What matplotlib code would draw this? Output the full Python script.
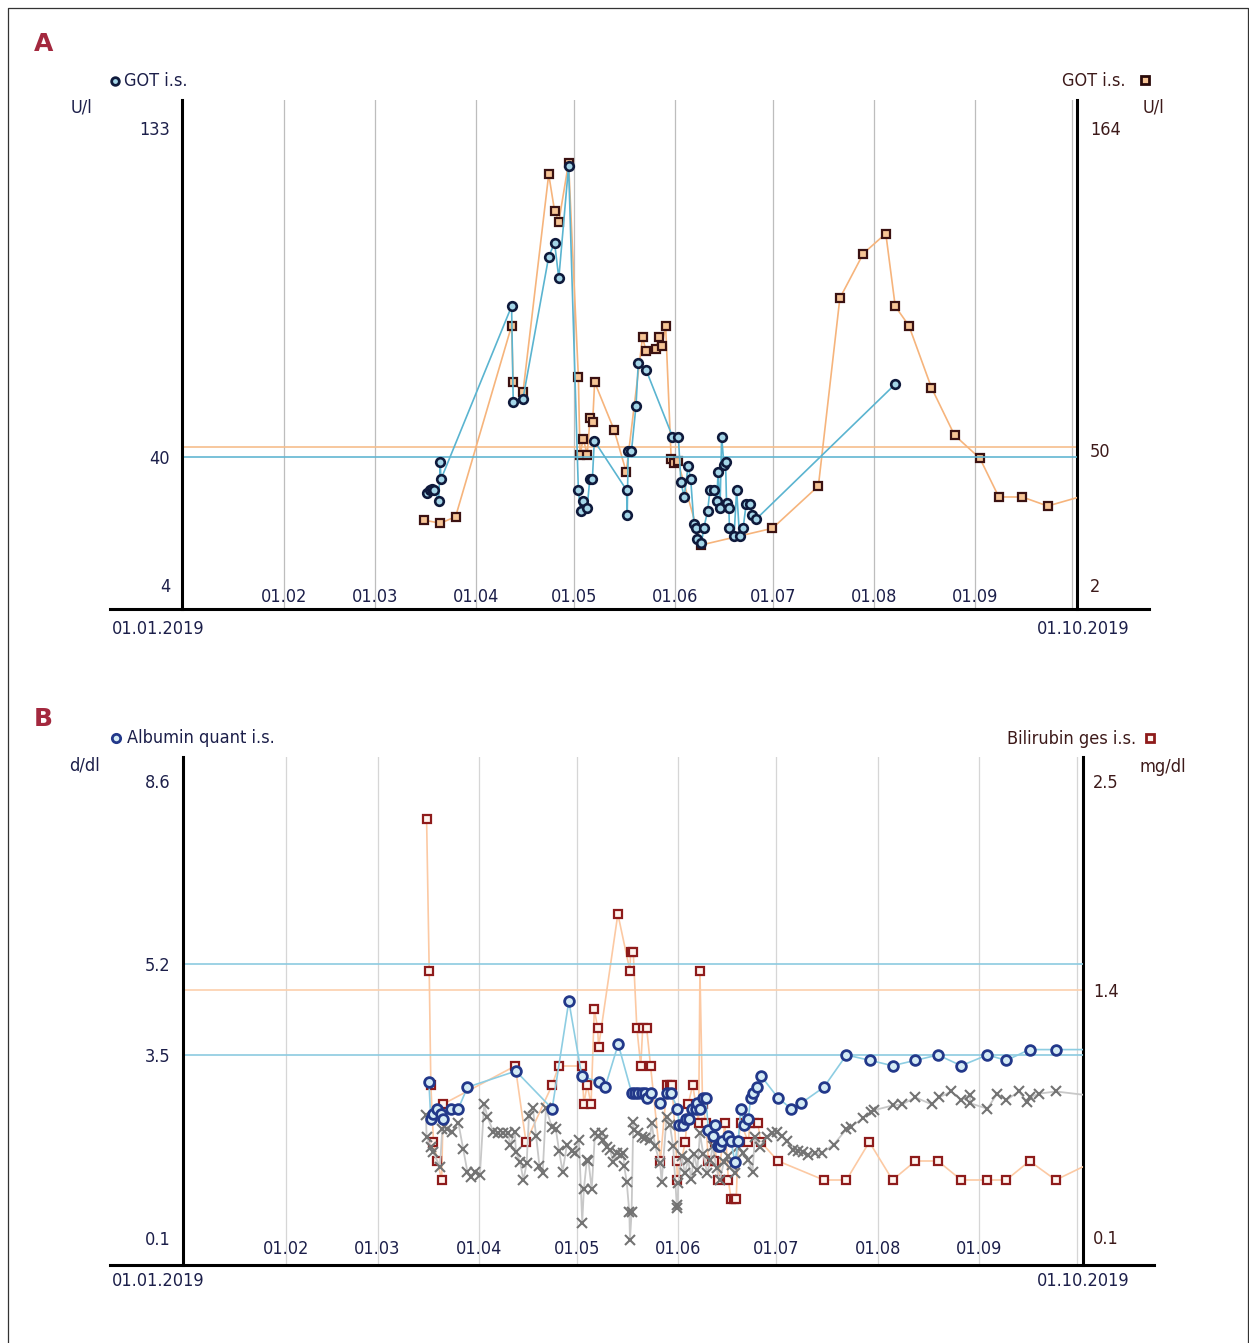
import numpy as np
import matplotlib
matplotlib.use("Agg")
import matplotlib.pyplot as plt
from matplotlib.lines import Line2D

W, H = 1249, 1343

# ---- panel A : GOT i.s. (days since 01.01.2019) ----
got_l_days = [74.8, 75.6, 76.3, 77.1, 78.4, 78.9, 79.1, 100.8, 101.3, 104.3,
              112.2, 114.0, 115.3, 118.3, 121.3, 122.0, 122.8, 124.0, 124.8, 125.6,
              126.2, 136.1, 136.3, 136.6, 137.6, 139.0, 139.7, 142.1, 150.2, 152.0,
              152.8, 153.8, 155.0, 155.8, 156.8, 157.4, 157.8, 159.1, 159.8, 161.0,
              161.7, 163.0, 163.8, 164.2, 164.8, 165.3, 166.0, 166.5, 166.8, 167.5,
              167.7, 169.1, 169.9, 170.8, 171.9, 172.8, 174.0, 174.7, 175.9, 218.6]
got_l_vals = [29.9, 30.8, 31.0, 30.8, 27.8, 38.7, 33.8, 82.7, 55.7, 56.6,
              96.7, 100.6, 90.6, 122.3, 30.8, 24.9, 27.8, 25.8, 33.8, 33.8,
              44.7, 30.8, 23.8, 41.7, 41.7, 54.6, 66.7, 64.7, 45.9, 45.9,
              33.0, 28.8, 37.7, 33.8, 21.1, 20.0, 17.0, 15.9, 20.0, 24.9,
              30.8, 30.8, 27.8, 35.8, 25.8, 45.9, 37.9, 38.8, 27.1, 25.8,
              20.0, 17.8, 30.8, 17.8, 20.0, 26.8, 26.8, 23.8, 22.6, 60.7]
got_r_days = [74.0, 78.9, 83.6, 100.8, 101.3, 104.3, 112.2, 114.0, 115.3, 118.3,
              121.3, 121.8, 122.8, 124.0, 124.9, 125.7, 126.3, 132.3, 136.0, 141.0,
              142.1, 145.0, 146.1, 147.0, 148.1, 149.8, 150.8, 151.8, 159.1, 180.9,
              195.0, 201.6, 208.8, 215.7, 218.6, 222.8, 229.7, 236.8, 244.6, 250.4,
              257.6, 265.4, 280.6]
got_r_vals = [25.0, 23.9, 26.2, 93.9, 73.9, 70.3, 147.6, 134.6, 130.8, 151.7,
              75.8, 48.2, 53.9, 48.2, 61.1, 59.9, 73.9, 56.9, 42.1, 89.8,
              84.9, 85.8, 89.8, 86.8, 93.9, 46.8, 45.1, 46.0, 16.2, 22.1,
              37.1, 103.7, 119.5, 126.6, 100.8, 93.9, 72.0, 55.1, 46.9, 33.2,
              33.2, 30.0, 35.0]
got_l_ticks = [4, 40, 133]
got_r_ticks = [2, 50, 164]
got_l_ref = 40
got_r_ref = 51

# ---- panel B : Albumin / Bilirubin ----
alb_days = [74.7, 75.3, 76.1, 77.3, 78.3, 79.1, 81.4, 83.7, 86.5, 101.3,
            112.4, 117.5, 121.5, 126.6, 128.6, 132.6, 136.7, 137.7, 138.7, 139.8,
            140.8, 141.3, 142.5, 145.4, 147.4, 148.7, 150.7, 151.3, 152.5, 153.3,
            154.3, 155.1, 156.4, 156.8, 157.6, 158.6, 159.4, 160.2, 161.5, 162.2,
            163.0, 163.7, 164.3, 166.3, 167.1, 168.3, 169.3, 170.1, 171.1, 172.4,
            173.1, 173.9, 174.9, 176.4, 181.5, 185.5, 188.5, 195.5, 202.4, 209.6,
            216.5, 223.5, 230.4, 237.5, 245.5, 251.3, 258.4, 266.4, 285.0]
alb_vals = [3.0, 2.3, 2.4, 2.5, 2.4, 2.3, 2.5, 2.5, 2.9, 3.2,
            2.5, 4.5, 3.1, 3.0, 2.9, 3.7, 2.8, 2.8, 2.8, 2.8,
            2.8, 2.7, 2.8, 2.6, 2.8, 2.8, 2.5, 2.2, 2.2, 2.3,
            2.3, 2.5, 2.5, 2.6, 2.5, 2.7, 2.7, 2.1, 2.0, 2.2,
            1.8, 1.8, 1.9, 2.0, 1.9, 1.5, 1.9, 2.5, 2.2, 2.3,
            2.7, 2.8, 2.9, 3.1, 2.7, 2.5, 2.6, 2.9, 3.5, 3.4,
            3.3, 3.4, 3.5, 3.3, 3.5, 3.4, 3.6, 3.6, 3.6]
bili_days = [74.0, 74.8, 75.3, 76.1, 77.3, 78.6, 79.1, 101.1, 104.4, 112.4,
             114.4, 121.5, 122.1, 123.1, 124.3, 125.3, 126.3, 126.6, 132.5, 136.2,
             136.4, 137.2, 138.3, 139.5, 140.1, 141.3, 142.5, 145.5, 147.5, 148.5,
             149.1, 150.5, 150.7, 153.1, 154.0, 155.4, 157.2, 157.6, 158.4, 159.4,
             160.2, 161.2, 162.0, 162.1, 163.2, 165.2, 166.3, 167.1, 167.9, 168.7,
             169.3, 170.1, 172.4, 172.9, 174.1, 175.3, 176.2, 181.5, 195.5, 202.4,
             209.4, 216.5, 223.5, 230.4, 237.5, 245.5, 251.3, 258.4, 266.4, 278.4]
bili_vals = [2.3, 1.5, 0.9, 0.6, 0.5, 0.4, 0.8, 1.0, 0.6, 0.9,
             1.0, 1.0, 0.8, 0.9, 0.8, 1.3, 1.2, 1.1, 1.8, 1.5,
             1.6, 1.6, 1.2, 1.0, 1.2, 1.2, 1.0, 0.5, 0.9, 0.9,
             0.9, 0.5, 0.4, 0.6, 0.8, 0.9, 0.7, 1.5, 0.8, 0.7,
             0.5, 0.5, 0.5, 0.6, 0.4, 0.7, 0.4, 0.3, 0.3, 0.3,
             0.6, 0.7, 0.6, 0.7, 0.7, 0.7, 0.6, 0.5, 0.4, 0.4,
             0.6, 0.4, 0.5, 0.5, 0.4, 0.4, 0.4, 0.5, 0.4, 0.5]
gray_days = [73.8, 74.0, 75.3, 75.9, 78.1, 78.8, 80.2, 81.7, 83.7, 85.2,
             86.5, 87.6, 88.8, 90.3, 91.6, 92.6, 94.4, 95.9, 97.5, 99.0,
             99.5, 101.0, 101.3, 102.6, 103.6, 104.6, 105.3, 106.5, 107.5, 108.5,
             109.5, 110.5, 112.3, 113.5, 114.5, 115.6, 116.9, 118.4, 119.4, 120.6,
             121.6, 122.1, 123.0, 123.5, 124.5, 125.5, 126.5, 127.6, 128.0, 129.1,
             130.1, 131.1, 132.1, 133.4, 134.2, 134.4, 135.2, 136.0, 136.2, 136.7,
             137.2, 137.4, 138.7, 139.8, 140.8, 142.3, 142.8, 143.9, 145.4, 145.9,
             147.4, 148.4, 149.4, 150.5, 150.7, 151.0, 152.0, 153.0, 154.0, 154.9,
             155.9, 156.8, 157.6, 158.6, 159.8, 160.8, 161.5, 162.7, 163.7, 164.9,
             166.3, 167.3, 168.3, 169.3, 170.9, 172.4, 173.7, 174.4, 175.9, 178.0,
             179.5, 181.1, 182.6, 184.1, 186.1, 187.7, 189.2, 190.7, 192.8, 194.8,
             198.5, 202.4, 203.7, 207.4, 209.8, 210.7, 216.6, 219.4, 223.5, 228.5,
             230.7, 234.5, 237.5, 240.2, 240.3, 245.5, 248.5, 251.3, 255.2, 257.6,
             258.5, 261.3, 266.5, 283.0]
gray_vals = [2.38, 1.98, 1.79, 1.70, 1.42, 2.13, 2.13, 2.07, 2.24, 1.75,
             1.32, 1.23, 1.32, 1.27, 2.58, 2.35, 2.07, 2.04, 2.04, 2.04,
             1.82, 2.07, 1.70, 1.51, 1.17, 1.48, 2.36, 2.51, 1.99, 1.44,
             1.30, 2.51, 2.16, 2.13, 1.72, 1.33, 1.82, 1.72, 1.67, 1.92,
             0.38, 1.0, 1.54, 1.53, 1.0, 2.04, 2.0, 2.04, 1.92, 1.79,
             1.73, 1.51, 1.67, 1.64, 1.67, 1.44, 1.14, 0.57, 0.06, 0.57,
             2.26, 2.1, 2.04, 1.98, 1.95, 1.92, 2.24, 1.8, 1.48, 1.14,
             2.35, 2.2, 1.8, 0.71, 0.65, 1.12, 1.61, 1.3, 1.55, 1.2,
             1.65, 1.35, 2.04, 1.66, 1.30, 1.54, 1.8, 1.39, 1.17, 1.5,
             1.61, 1.45, 1.30, 1.79, 1.67, 1.54, 1.33, 1.98, 1.79, 1.98,
             2.04, 2.07, 1.99, 1.89, 1.73, 1.72, 1.70, 1.64, 1.67, 1.67,
             1.83, 2.12, 2.16, 2.32, 2.44, 2.47, 2.56, 2.58, 2.71, 2.58,
             2.71, 2.82, 2.66, 2.76, 2.6, 2.5, 2.78, 2.66, 2.82, 2.62,
             2.71, 2.78, 2.82, 2.70]
alb_ticks = [0.1, 3.5, 5.2, 8.6]
bili_ticks = [0.1, 1.4, 2.5]
alb_refs = [3.5, 5.2]
bili_ref = 1.4

start = np.datetime64('2019-01-01')
months = np.arange('2019-02', '2019-11', dtype='datetime64[M]').astype('datetime64[D]')
month_days = (months - start).astype(int)
month_labels = [str(m)[8:10] + '.' + str(m)[5:7] for m in months]
month_labels[-1] = ''

plt.rcParams['font.family'] = ['DejaVu Sans']
plt.rcParams['font.stretch'] = 'condensed'
FS = 13
NAVY = '#1c1f4a'
BROWN = '#3d1a1a'
MAROON = '#a3283e'

fig = plt.figure(figsize=(W / 100, H / 100), dpi=100)


def fx(x):
    return x / W


def fy(y):
    return 1 - y / H


def make_panel(left, top, right, bottom, xlim, yl, yr):
    # right-hand axes at the bottom, left-hand axes drawn on top of it
    ax2 = fig.add_axes([fx(left), fy(bottom), (right - left) / W, (bottom - top) / H])
    ax = fig.add_axes(ax2.get_position(), sharex=ax2)
    ax2.yaxis.tick_right()
    ax.set_zorder(ax2.get_zorder() + 1)
    ax.patch.set_visible(False)
    ax2.set_xlim(*xlim)
    ax.set_ylim(*yl)
    ax2.set_ylim(*yr)
    for s in ['top', 'bottom', 'right']:
        ax.spines[s].set_visible(False)
    for s in ['top', 'bottom', 'left']:
        ax2.spines[s].set_visible(False)
    ax.spines['left'].set_linewidth(2.2)
    ax2.spines['right'].set_linewidth(2.2)
    ax.spines['left'].set_color('black')
    ax2.spines['right'].set_color('black')
    ax.set_xticks([])
    ax2.set_xticks([])
    return ax, ax2


# ================= Panel A =================
axA, axA2 = make_panel(182, 100, 1077.3, 609.4, (-0.4, 274.5),
                       (4 - 24.4 / 3.543, 133 + 28 / 3.543),
                       (2 - 24.4 / 2.821, 164 + 28 / 2.821))
for d in month_days:
    axA2.axvline(d, color='#bdbdbd', lw=0.9, zorder=0)
axA2.axhline(got_r_ref, color='#f6bd8c', lw=1.2, zorder=1)
axA.axhline(got_l_ref, color='#62b6d2', lw=1.2, zorder=1)
axA2.plot(got_r_days, got_r_vals, color='#f6b47c', lw=1.2, marker='s', ms=6,
          mfc='#f6c596', mec='#3b1212', mew=1.6, zorder=3)
axA.plot(got_l_days, got_l_vals, color='#5ab4d0', lw=1.2, marker='o', ms=6.2,
         mfc='#a5d6e8', mec='#0f1a3c', mew=1.9, zorder=4)
axA.set_yticks(got_l_ticks, [str(t) for t in got_l_ticks])
axA2.set_yticks(got_r_ticks, [str(t) for t in got_r_ticks])
axA.tick_params(axis='y', length=0, pad=8.5, labelsize=FS, labelcolor=NAVY)
axA2.tick_params(axis='y', length=0, pad=9, labelsize=FS, labelcolor=BROWN)
for d, lab in zip(month_days, month_labels):
    axA.text(d, 0.024, lab, transform=axA.get_xaxis_transform(), ha='center',
             va='center', fontsize=FS, color=NAVY)

# ================= Panel B =================
axB, axB2 = make_panel(183, 757.3, 1082.5, 1265.4, (-0.5, 274.6),
                       (0.1 - 27.8 / 53.72, 8.6 + 23.7 / 53.72),
                       (0.1 - 28.4 / 190, 2.5 + 23.7 / 190))
for d in month_days:
    axB2.axvline(d, color='#d6d6d6', lw=0.9, zorder=0)
axB2.axhline(bili_ref, color='#fcd0ad', lw=1.2, zorder=1)
for r in alb_refs:
    axB.axhline(r, color='#8ccbe0', lw=1.2, zorder=1)
axB2.plot(bili_days, bili_vals, color='#fcc9a3', lw=1.2, marker='s', ms=5.6,
          mfc='#fff4ee', mec='#8e1b1b', mew=1.6, zorder=3)
axB.plot(gray_days, gray_vals, color='#c8c8c8', lw=1.3, marker='x', ms=6.5,
         mec='#737373', mew=1.5, zorder=2)
axB.plot(alb_days, alb_vals, color='#8dcde2', lw=1.2, marker='o', ms=7,
         mfc='#d4ebf5', mec='#22388a', mew=2.0, zorder=4)
axB.set_yticks(alb_ticks, [str(t) for t in alb_ticks])
axB2.set_yticks(bili_ticks, [str(t) for t in bili_ticks])
axB.tick_params(axis='y', length=0, pad=9, labelsize=FS, labelcolor=NAVY)
axB2.tick_params(axis='y', length=0, pad=7.5, labelsize=FS, labelcolor=BROWN)
for d, lab in zip(month_days, month_labels):
    axB.text(d, 0.032, lab, transform=axB.get_xaxis_transform(), ha='center',
             va='center', fontsize=FS, color=NAVY)

# ---- bottom axis lines and frame ----
fig.add_artist(Line2D([fx(110), fx(1148.7)], [fy(609.4), fy(609.4)], color='black', lw=2.2))
fig.add_artist(Line2D([fx(110), fx(1154.3)], [fy(1265.4), fy(1265.4)], color='black', lw=2.2))
fig.add_artist(Line2D([fx(8), fx(8), fx(1247.5), fx(1247.5)],
                      [fy(1343), fy(7.5), fy(7.5), fy(1343)], color='#333333', lw=0.9))

# ---- labels ----
fig.text(fx(34), fy(44), 'A', fontsize=18, fontweight='bold', color=MAROON,
         fontstretch='normal', va='center')
fig.text(fx(34), fy(719), 'B', fontsize=18, fontweight='bold', color=MAROON,
         fontstretch='normal', va='center')

fig.add_artist(Line2D([fx(115)], [fy(81)], marker='o', ms=5.5, mfc='#a5d6e8',
                      mec='#0f1a3c', mew=2, ls=''))
fig.text(fx(124), fy(81), 'GOT i.s.', fontsize=FS, color=NAVY, va='center')
fig.text(fx(1125), fy(81), 'GOT i.s.', fontsize=FS, color=BROWN, va='center', ha='right')
fig.add_artist(Line2D([fx(1145)], [fy(80)], marker='s', ms=5.5, mfc='#f6c596',
                      mec='#2a0a0a', mew=2, ls=''))
fig.text(fx(82), fy(107), 'U/l', fontsize=FS, color=NAVY, va='center', ha='center')
fig.text(fx(1153), fy(107), 'U/l', fontsize=FS, color=BROWN, va='center', ha='center')
fig.text(fx(158), fy(629), '01.01.2019', fontsize=FS, color=NAVY, va='center', ha='center')
fig.text(fx(1083), fy(629), '01.10.2019', fontsize=FS, color=NAVY, va='center', ha='center')

fig.add_artist(Line2D([fx(116)], [fy(738)], marker='o', ms=6, mfc='#d4ebf5',
                      mec='#22388a', mew=2, ls=''))
fig.text(fx(127), fy(738), 'Albumin quant i.s.', fontsize=FS, color=NAVY, va='center')
fig.text(fx(1136), fy(739), 'Bilirubin ges i.s.', fontsize=FS, color=BROWN, va='center',
         ha='right')
fig.add_artist(Line2D([fx(1150)], [fy(738)], marker='s', ms=5.5, mfc='#fff4ee',
                      mec='#8e1b1b', mew=2, ls=''))
fig.text(fx(85), fy(765), 'd/dl', fontsize=FS, color=NAVY, va='center', ha='center')
fig.text(fx(1163), fy(767), 'mg/dl', fontsize=FS, color=BROWN, va='center', ha='center')
fig.text(fx(158), fy(1281), '01.01.2019', fontsize=FS, color=NAVY, va='center', ha='center')
fig.text(fx(1083), fy(1281), '01.10.2019', fontsize=FS, color=NAVY, va='center', ha='center')

fig.savefig('out.png', dpi=100)
